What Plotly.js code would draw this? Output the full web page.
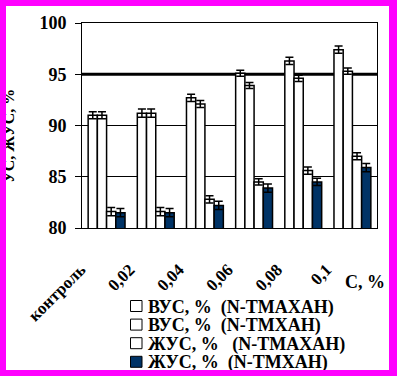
<!DOCTYPE html>
<html><head><meta charset="utf-8">
<script src="https://cdn.plot.ly/plotly-3.0.1.min.js"></script>
<style>
html,body{margin:0;padding:0;background:#fff;}
#wrap{position:relative;width:397px;height:376px;overflow:hidden;}
#chart{position:absolute;left:0;top:0;width:397px;height:376px;}
#frame{position:absolute;left:0;top:0;width:397px;height:376px;box-sizing:border-box;
border-left:6px solid #ff00ff;border-top:6px solid #ff00ff;border-right:8px solid #ff00ff;border-bottom:6px solid #ff00ff;pointer-events:none;}
</style></head>
<body><div id="wrap"><div id="chart"></div><div id="frame"></div></div>
<script>
const categories = ["контроль", "0,02", "0,04", "0,06", "0,08", "0,1"];
const seriesNames = ["ВУС, %\u00a0 (N-TMAXAH)", "ВУС, %\u00a0 (N-TMXAH)", "ЖУС, %\u00a0\u00a0 (N-TMAXAH)", "ЖУС, %\u00a0 (N-TMXAH)"];
const vusTmaxah = [91.0, 91.2, 92.7, 95.1, 96.3, 97.4];
const vusTmxah  = [91.0, 91.2, 92.1, 93.9, 94.6, 95.3];
const zhusTmaxah = [81.6, 81.6, 82.8, 84.5, 85.6, 87.0];
const zhusTmxah  = [81.5, 81.5, 82.2, 83.9, 84.5, 85.9];
const errVusTmaxah = [0.35, 0.4, 0.35, 0.3, 0.35, 0.35];
const errVusTmxah  = [0.35, 0.4, 0.35, 0.3, 0.3, 0.3];
const errZhusTmaxah = [0.4, 0.4, 0.35, 0.3, 0.35, 0.35];
const errZhusTmxah  = [0.4, 0.4, 0.4, 0.4, 0.35, 0.4];
const yTicks = [80, 85, 90, 95, 100];
const refLine = 95;

const fills = ["#ffffff", "#ffffff", "#ffffff", "#003366"];
const vals = [vusTmaxah, vusTmxah, zhusTmaxah, zhusTmxah];
const errs = [errVusTmaxah, errVusTmxah, errZhusTmaxah, errZhusTmxah];

const traces = vals.map((v, i) => ({
  type: "bar", name: seriesNames[i], x: categories, y: v, showlegend: false,
  marker: {color: fills[i], line: {color: "#000", width: 1.5}},
  error_y: {type: "data", array: errs[i], visible: true, color: "#000", thickness: 1.5, width: 4}
}));

// layout geometry (pixels)
const W = 397, H = 376, mL = 82, mR = 20, mT = 23, mB = 148;
const pw = W - mL - mR, ph = H - mT - mB;
const px2x = p => (p - mL) / pw;
const px2y = p => (H - mB - p) / ph;

const serif = "Liberation Serif";
const legFont = {family: serif, size: 18, color: "#000", weight: "bold"};
const legShapes = [], legAnns = [];
seriesNames.forEach((nm, i) => {
  const cy = 306 + i * 18.6;
  legShapes.push({type: "rect", xref: "paper", yref: "paper",
    x0: px2x(130.5), x1: px2x(142), y0: px2y(cy + 5.5), y1: px2y(cy - 5.5),
    fillcolor: fills[i], line: {color: "#000", width: 1}});
  legAnns.push({text: nm, xref: "paper", yref: "paper", x: px2x(146), y: px2y(cy + 1),
    xanchor: "left", yanchor: "middle", showarrow: false, font: legFont});
});

const layout = {
  width: W, height: H,
  margin: {l: mL, r: mR, t: mT, b: mB, autoexpand: false},
  paper_bgcolor: "#fff", plot_bgcolor: "#fff",
  font: {family: serif, color: "#000"},
  barmode: "group", bargap: 0.25, bargroupgap: 0,
  showlegend: false,
  xaxis: {type: "category", showline: true, linecolor: "#000", linewidth: 1, mirror: true,
    showgrid: false, ticks: "", tickangle: -45, ticklabelstandoff: 24, ticklabelshift: -26,
    tickfont: {family: serif, size: 17, color: "#000", weight: "bold"}},
  yaxis: {range: [80, 100], tickvals: yTicks, showline: true, linecolor: "#000", linewidth: 1, mirror: true,
    showgrid: true, gridcolor: "#000", gridwidth: 1, ticks: "outside", ticklen: 6, tickcolor: "#000",
    ticklabelstandoff: 5,
    zeroline: false, tickfont: {family: serif, size: 18, color: "#000", weight: "bold"}},
  shapes: [{type: "line", xref: "paper", x0: 0, x1: 1, yref: "y", y0: refLine, y1: refLine,
    line: {color: "#000", width: 3}, layer: "below"}].concat(legShapes),
  annotations: [
    {text: "C, %", xref: "paper", yref: "paper", x: px2x(365), y: px2y(282), xanchor: "center", yanchor: "middle",
     showarrow: false, font: {family: serif, size: 18, color: "#000", weight: "bold"}},
    {text: "УС, ЖУС, %", xref: "paper", yref: "paper", x: px2x(8), y: px2y(136), textangle: -90,
     xanchor: "center", yanchor: "middle", showarrow: false,
     font: {family: serif, size: 16, color: "#000", weight: "bold"}}
  ].concat(legAnns)
};
Plotly.newPlot("chart", traces, layout, {displayModeBar: false, staticPlot: true});
</script></body></html>
